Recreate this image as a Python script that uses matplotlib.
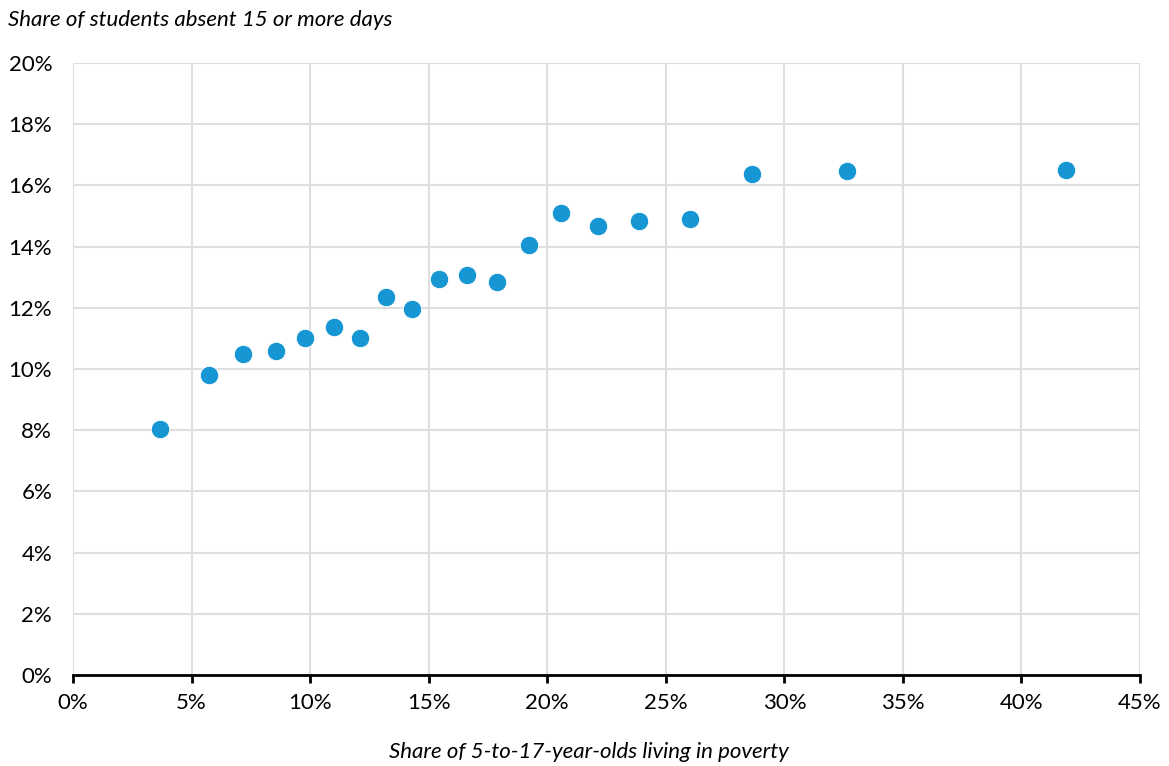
import matplotlib
matplotlib.use("Agg")
import matplotlib.pyplot as plt
from matplotlib.ticker import FuncFormatter, MultipleLocator

plt.rcParams['font.family'] = ['Lato', 'DejaVu Sans']

poverty_share = [3.67, 5.74, 7.17, 8.56, 9.78, 11.01, 12.10, 13.20, 14.30, 15.44,
                 16.62, 17.88, 19.23, 20.58, 22.14, 23.87, 26.02, 28.64, 32.64, 41.88]
absent_share = [8.04, 9.80, 10.49, 10.59, 11.01, 11.37, 11.01, 12.35, 11.96, 12.94,
                13.07, 12.84, 14.05, 15.10, 14.67, 14.84, 14.90, 16.37, 16.47, 16.50]

y_title = "Share of students absent 15 or more days"
x_title = "Share of 5-to-17-year-olds living in poverty"

W, H = 1169, 766
fig = plt.figure(figsize=(W / 100, H / 100), dpi=100)
ax = fig.add_axes([73 / W, 1 - 675 / H, (1140 - 73) / W, (675 - 63) / H])

ax.scatter(poverty_share, absent_share, s=175, color='#1696d2', edgecolors='white',
           linewidths=0.6, zorder=3, clip_on=False)

ax.set_xlim(0, 45)
ax.set_ylim(0, 20)
ax.xaxis.set_major_locator(MultipleLocator(5))
ax.yaxis.set_major_locator(MultipleLocator(2))
pct = FuncFormatter(lambda v, p: f"{v:.0f}%")
ax.xaxis.set_major_formatter(pct)
ax.yaxis.set_major_formatter(pct)

ax.grid(True, color='#dedede', linewidth=1.5, zorder=0)
ax.set_axisbelow(True)
for side in ['top', 'right', 'left']:
    ax.spines[side].set_visible(False)
ax.spines['bottom'].set_linewidth(2)
ax.spines['bottom'].set_color('black')
ax.spines['bottom'].set_zorder(2)

ax.tick_params(axis='y', length=0, pad=15, labelsize=16, labelcolor='black')
ax.tick_params(axis='x', length=6, width=2, direction='out', pad=7, labelsize=16,
               labelcolor='black', color='black')

fig.text(8 / W, 1 - 20 / H, y_title, fontsize=16, style='italic', ha='left', va='center')
fig.text(589 / W, 1 - 752 / H, x_title, fontsize=16, style='italic', ha='center', va='center')

fig.savefig("out.png", dpi=100)
